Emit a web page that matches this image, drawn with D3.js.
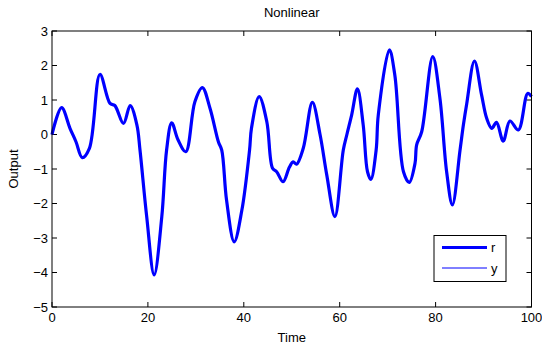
<!DOCTYPE html>
<html><head><meta charset="utf-8">
<script src="https://cdn.jsdelivr.net/npm/d3@7/dist/d3.min.js"></script>
<style>body{margin:0;background:#fff}svg{display:block;font-family:"Liberation Sans",Arial,sans-serif}</style>
</head><body><svg id="c" width="542" height="347"></svg>
<script>
const timeValues = [0,2.0,3.75,5.0,6.3,7.8,10.0,12.1,13.1,14.9,16.3,17.7,18.35,19.75,21.3,22.9,23.9,24.96,26.3,27.9,29.8,31.35,32.95,34.7,35.4,36.4,38.0,39.6,41.2,41.6,43.2,44.8,46.0,46.85,48.2,49.5,50.3,51.0,52.4,54.3,55.9,57.3,59.0,60.75,61.5,62.5,63.7,64.9,65.8,66.5,67.6,68.05,70.35,71.5,73.3,74.5,75.7,76.05,77.1,79.4,80.9,82.3,83.5,85.1,85.8,86.5,88.1,89.6,90.65,91.7,92.7,94.1,95.5,97.25,99.2,100];
const rValues = [0,0.78,0.18,-0.21,-0.67,-0.4,1.74,0.9,0.84,0.32,0.84,0.28,-0.45,-2.38,-4.07,-2.38,-0.45,0.34,-0.16,-0.5,0.95,1.36,0.76,-0.21,-0.45,-1.9,-3.11,-2.19,-0.45,0.18,1.1,0.37,-0.98,-1.08,-1.37,-0.95,-0.79,-0.86,-0.4,0.93,0.0,-1.17,-2.38,-0.45,0,0.57,1.32,0.28,-1.08,-1.3,-0.45,0.57,2.45,1.72,-1.08,-1.39,-0.84,-0.3,0.08,2.26,1.05,-1.08,-2.04,-0.45,0.28,0.9,2.13,1.14,0.47,0.18,0.35,-0.19,0.39,0.13,1.19,1.1];
const yValues = rValues.slice();
const xTicks = [0,20,40,60,80,100];
const yTicks = [-5,-4,-3,-2,-1,0,1,2,3];
const seriesNames = ["r","y"];

const svg = d3.select("#c");
const L=52,R=531.5,T=31,B=307;
const x = d3.scaleLinear().domain([0,100]).range([L,R]);
const y = d3.scaleLinear().domain([-5,3]).range([B,T]);
const fmt = d => d<0 ? "\u2212"+Math.abs(d) : String(d);
const tl = 5;

const g = svg.append("g");
// ticks inward, all sides
xTicks.forEach(t=>{
  g.append("line").attr("x1",x(t)).attr("x2",x(t)).attr("y1",B).attr("y2",B-tl).attr("stroke","#000");
  g.append("line").attr("x1",x(t)).attr("x2",x(t)).attr("y1",T).attr("y2",T+tl).attr("stroke","#000");
  g.append("text").attr("x",x(t)).attr("y",B+15).attr("text-anchor","middle").attr("font-size",13).text(fmt(t));
});
yTicks.forEach(t=>{
  g.append("line").attr("x1",L).attr("x2",L+tl).attr("y1",y(t)).attr("y2",y(t)).attr("stroke","#000");
  g.append("line").attr("x1",R).attr("x2",R-tl).attr("y1",y(t)).attr("y2",y(t)).attr("stroke","#000");
  g.append("text").attr("x",L-4).attr("y",y(t)+4.5).attr("text-anchor","end").attr("font-size",13).text(fmt(t));
});

const line = d3.line().x((d,i)=>x(timeValues[i])).y(d=>y(d)).curve(d3.curveCatmullRom.alpha(0.5));
svg.append("path").attr("d",line(rValues)).attr("fill","none").attr("stroke","#0000ff").attr("stroke-width",3.2).attr("stroke-linejoin","round");
svg.append("path").attr("d",line(yValues)).attr("fill","none").attr("stroke","#0000ff").attr("stroke-width",1);

svg.append("rect").attr("x",L).attr("y",T).attr("width",R-L).attr("height",B-T).attr("fill","none").attr("stroke","#000").attr("stroke-width",1);

svg.append("text").attr("x",(L+R)/2).attr("y",17).attr("text-anchor","middle").attr("font-size",13).text("Nonlinear");
svg.append("text").attr("x",(L+R)/2).attr("y",342).attr("text-anchor","middle").attr("font-size",13).text("Time");
svg.append("text").attr("transform",`translate(18,${(T+B)/2}) rotate(-90)`).attr("text-anchor","middle").attr("font-size",13).text("Output");

// legend
const lg = svg.append("g");
lg.append("rect").attr("x",434).attr("y",235.5).attr("width",72).attr("height",46).attr("fill","#fff").attr("stroke","#000");
seriesNames.forEach((n,i)=>{
  const yy = 247.5 + i*20.5;
  lg.append("line").attr("x1",442).attr("x2",487).attr("y1",yy).attr("y2",yy).attr("stroke","#0000ff").attr("stroke-width",i===0?3.2:1);
  lg.append("text").attr("x",491).attr("y",yy+4.5).attr("font-size",13).text(n);
});
</script></body></html>
